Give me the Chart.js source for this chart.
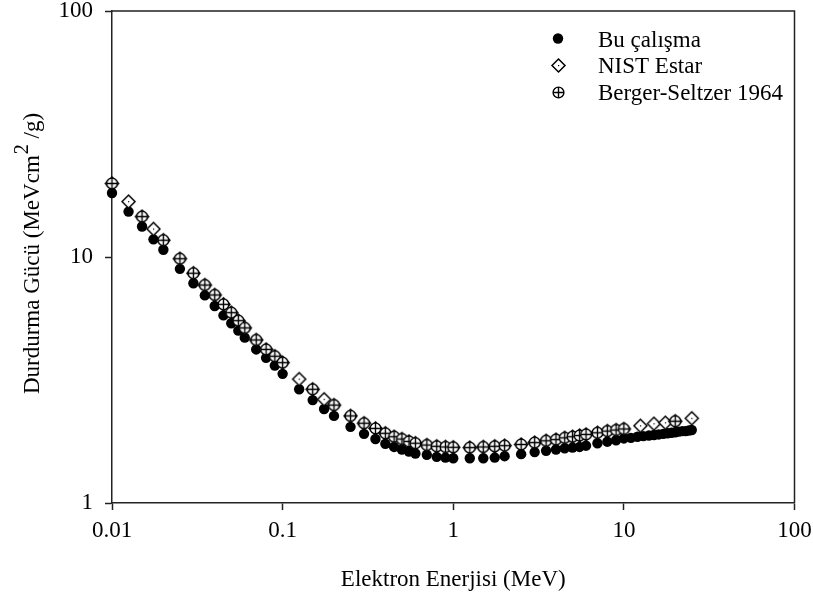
<!DOCTYPE html>
<html><head><meta charset="utf-8">
<script src="https://cdn.jsdelivr.net/npm/chart.js@4/dist/chart.umd.min.js"></script>
<style>html,body{margin:0;padding:0;background:#fff}#wrap{width:813px;height:600px;position:relative}</style>
</head><body><div id="wrap"><canvas id="c" width="813" height="600"></canvas></div>
<script>
// ---- data ----
const xTickLabels = ['0.01', '0.1', '1', '10', '100'];
const yTickLabels = ['1', '10', '100'];
const seriesNames = ['Bu çalışma', 'NIST Estar', 'Berger-Seltzer 1964'];
const xTitle = 'Elektron Enerjisi (MeV)';
const yTitleParts = ['Durdurma Gücü (MeVcm', '2', ' /g)'];

const buEnergy = [0.01, 0.0125, 0.015, 0.0175, 0.02, 0.025, 0.03, 0.035, 0.04, 0.045, 0.05, 0.055, 0.06, 0.07, 0.08, 0.09, 0.1,
  0.125, 0.15, 0.175, 0.2, 0.25, 0.3, 0.35, 0.4, 0.45, 0.5, 0.55, 0.6, 0.7, 0.8, 0.9, 1, 1.25, 1.5, 1.75, 2, 2.5, 3, 3.5, 4,
  4.5, 5, 5.5, 6, 7, 8, 9, 10, 11, 12, 13, 14, 15, 16, 17, 18, 19, 20, 21, 22, 23, 24, 25];
const buValue = [18.2, 15.3, 13.3, 11.8, 10.7, 8.95, 7.82, 6.98, 6.32, 5.79, 5.38, 5.02, 4.70, 4.21, 3.89, 3.62, 3.35,
  2.90, 2.62, 2.41, 2.26, 2.04, 1.91, 1.82, 1.74, 1.69, 1.65, 1.62, 1.59, 1.57, 1.54, 1.53, 1.52, 1.52, 1.52, 1.53, 1.55, 1.58, 1.61, 1.63, 1.65,
  1.67, 1.68, 1.69, 1.71, 1.75, 1.775, 1.80, 1.83, 1.84, 1.86, 1.87, 1.88, 1.89, 1.90, 1.91, 1.92, 1.93, 1.94, 1.95, 1.96, 1.96, 1.97, 1.98];

const nistEnergy = [0.01, 0.0125, 0.015, 0.0175, 0.02, 0.025, 0.03, 0.035, 0.04, 0.045, 0.05, 0.055, 0.06, 0.07, 0.08, 0.09, 0.1,
  0.125, 0.15, 0.175, 0.2, 0.25, 0.3, 0.35, 0.4, 0.45, 0.5, 0.55, 0.6, 0.7, 0.8, 0.9, 1, 1.25, 1.5, 1.75, 2, 2.5, 3, 3.5, 4,
  4.5, 5, 5.5, 6, 7, 8, 9, 10, 12.5, 15, 17.5, 20, 25];
const nistValue = [19.9, 16.8, 14.6, 13.0, 11.7, 9.84, 8.59, 7.69, 7.01, 6.42, 5.94, 5.51, 5.15, 4.60, 4.21, 3.95, 3.72,
  3.19, 2.90, 2.64, 2.50, 2.26, 2.11, 2.01, 1.92, 1.86, 1.82, 1.78, 1.75, 1.72, 1.70, 1.69, 1.685, 1.68, 1.69, 1.70, 1.71, 1.73, 1.76, 1.79, 1.81,
  1.84, 1.86, 1.88, 1.90, 1.93, 1.96, 1.98, 2.00, 2.06, 2.10, 2.12, 2.15, 2.21];

const bsEnergy = [0.01, 0.015, 0.02, 0.025, 0.03, 0.035, 0.04, 0.045, 0.05, 0.055, 0.06, 0.07, 0.08, 0.09, 0.1,
  0.15, 0.2, 0.25, 0.3, 0.35, 0.4, 0.45, 0.5, 0.55, 0.6, 0.7, 0.8, 0.9, 1, 1.25, 1.5, 1.75, 2, 2.5, 3, 3.5, 4,
  4.5, 5, 5.5, 6, 7, 8, 9, 10, 20];
const bsValue = [19.9, 14.6, 11.7, 9.84, 8.59, 7.69, 7.01, 6.42, 5.94, 5.51, 5.15, 4.60, 4.21, 3.95, 3.72,
  2.90, 2.50, 2.26, 2.11, 2.01, 1.92, 1.86, 1.82, 1.78, 1.75, 1.72, 1.70, 1.69, 1.685, 1.68, 1.69, 1.70, 1.71, 1.73, 1.76, 1.79, 1.81,
  1.84, 1.86, 1.88, 1.90, 1.93, 1.96, 1.98, 2.00, 2.15];

// ---- marker images ----
function makeDiamond() {
  const c = document.createElement('canvas'); c.width = 17; c.height = 17;
  const g = c.getContext('2d');
  g.beginPath(); g.moveTo(8.5, 2); g.lineTo(15, 8.5); g.lineTo(8.5, 15); g.lineTo(2, 8.5); g.closePath();
  g.fillStyle = '#fff'; g.fill(); g.lineWidth = 1.5; g.strokeStyle = '#000'; g.stroke();
  g.fillStyle = '#000'; g.fillRect(8, 8, 1.2, 1.2);
  return c;
}
function makeCirclePlus() {
  const c = document.createElement('canvas'); c.width = 17; c.height = 17;
  const g = c.getContext('2d');
  g.beginPath(); g.arc(8.5, 8.5, 5.4, 0, Math.PI * 2);
  g.fillStyle = '#fff'; g.fill(); g.lineWidth = 1.4; g.strokeStyle = '#000'; g.stroke();
  g.beginPath(); g.moveTo(3.1, 8.5); g.lineTo(13.9, 8.5); g.moveTo(8.5, 3.1); g.lineTo(8.5, 13.9); g.stroke();
  return c;
}
const diamondImg = makeDiamond();
const cplusImg = makeCirclePlus();

const FONT = '"Liberation Serif", "Times New Roman", serif';
const FS = 23;
const AXIS_COLOR = '#222';

const toPts = (xs, ys) => xs.map((x, i) => ({ x: x, y: ys[i] }));

const framePlugin = {
  id: 'frame',
  beforeDatasetsDraw(chart) {
    const { ctx, chartArea: a } = chart;
    ctx.save();
    ctx.strokeStyle = AXIS_COLOR; ctx.lineWidth = 1.5;
    ctx.beginPath();
    ctx.moveTo(a.left, a.top); ctx.lineTo(a.right, a.top); ctx.lineTo(a.right, a.bottom);
    ctx.stroke();
    ctx.restore();
  },
  afterDraw(chart) {
    const ctx = chart.ctx;
    ctx.save();
    // y title with superscript
    ctx.fillStyle = '#000';
    ctx.textBaseline = 'alphabetic';
    ctx.translate(39, 254);
    ctx.rotate(-Math.PI / 2);
    ctx.font = FS + 'px ' + FONT;
    const w1 = ctx.measureText(yTitleParts[0]).width;
    const w3 = ctx.measureText(yTitleParts[2]).width;
    ctx.font = '20px ' + FONT;
    const w2 = ctx.measureText(yTitleParts[1]).width;
    let x0 = -(w1 + w2 + w3) / 2;
    ctx.font = FS + 'px ' + FONT;
    ctx.fillText(yTitleParts[0], x0, 0);
    ctx.font = '20px ' + FONT;
    ctx.fillText(yTitleParts[1], x0 + w1 + 1, -11);
    ctx.font = FS + 'px ' + FONT;
    ctx.fillText(yTitleParts[2], x0 + w1 + w2 + 1, 0);
    ctx.restore();

    // legend
    ctx.save();
    const baselines = [46.5, 73.2, 100];
    const mx = 558, tx = 598;
    ctx.font = FS + 'px ' + FONT;
    ctx.textBaseline = 'alphabetic';
    baselines.forEach((b, i) => {
      const my = b - 8;
      if (i === 0) {
        ctx.beginPath(); ctx.arc(mx, my, 5.2, 0, Math.PI * 2); ctx.fillStyle = '#000'; ctx.fill();
      } else {
        const img = i === 1 ? diamondImg : cplusImg;
        ctx.drawImage(img, Math.round(mx - img.width / 2), Math.round(my - img.height / 2));
      }
      ctx.fillStyle = '#000';
      ctx.fillText(seriesNames[i], tx, b);
    });
    ctx.restore();
  }
};

new Chart(document.getElementById('c'), {
  type: 'scatter',
  data: {
    datasets: [
      { label: seriesNames[0], data: toPts(buEnergy, buValue), pointStyle: 'circle', pointRadius: 5.2,
        backgroundColor: '#000', borderColor: '#000', borderWidth: 0, order: 3, clip: false, showLine: false },
      { label: seriesNames[1], data: toPts(nistEnergy, nistValue), pointStyle: diamondImg, pointRadius: 6,
        backgroundColor: '#fff', borderColor: '#000', order: 2, clip: false, showLine: false },
      { label: seriesNames[2], data: toPts(bsEnergy, bsValue), pointStyle: cplusImg, pointRadius: 6,
        backgroundColor: '#fff', borderColor: '#000', order: 1, clip: false, showLine: false }
    ]
  },
  options: {
    responsive: false,
    animation: false,
    devicePixelRatio: 1,
    layout: { padding: { top: 11, right: 18.5, bottom: 0, left: 0 } },
    plugins: { legend: { display: false }, tooltip: { enabled: false }, title: { display: false } },
    scales: {
      x: {
        type: 'logarithmic', position: 'bottom', min: 0.01, max: 100,
        afterBuildTicks: s => { s.ticks = xTickLabels.map(t => ({ value: parseFloat(t) })); },
        afterFit: s => { s.height = 97; s.paddingLeft = 0; s.paddingRight = 0; },
        ticks: { autoSkip: false, maxRotation: 0, padding: 7, color: '#000', font: { family: FONT, size: FS },
          callback: (v, i) => xTickLabels[i] },
        grid: { drawOnChartArea: false, drawTicks: true, tickLength: 7, tickWidth: 1.5, tickColor: AXIS_COLOR },
        border: { display: true, color: AXIS_COLOR, width: 1.5 },
        title: { display: true, text: xTitle, color: '#000', font: { family: FONT, size: FS }, padding: { top: 0, bottom: 6 } }
      },
      y: {
        type: 'logarithmic', position: 'left', min: 1, max: 100,
        afterBuildTicks: s => { s.ticks = yTickLabels.map(t => ({ value: parseFloat(t) })); },
        afterFit: s => { s.width = 112; s.paddingTop = 0; s.paddingBottom = 0; },
        ticks: { autoSkip: false, padding: 12, color: '#000', font: { family: FONT, size: FS },
          callback: (v, i) => yTickLabels[i] },
        grid: { drawOnChartArea: false, drawTicks: true, tickLength: 7, tickWidth: 1.5, tickColor: AXIS_COLOR },
        border: { display: true, color: AXIS_COLOR, width: 1.5 }
      }
    }
  },
  plugins: [framePlugin]
});
</script></body></html>
